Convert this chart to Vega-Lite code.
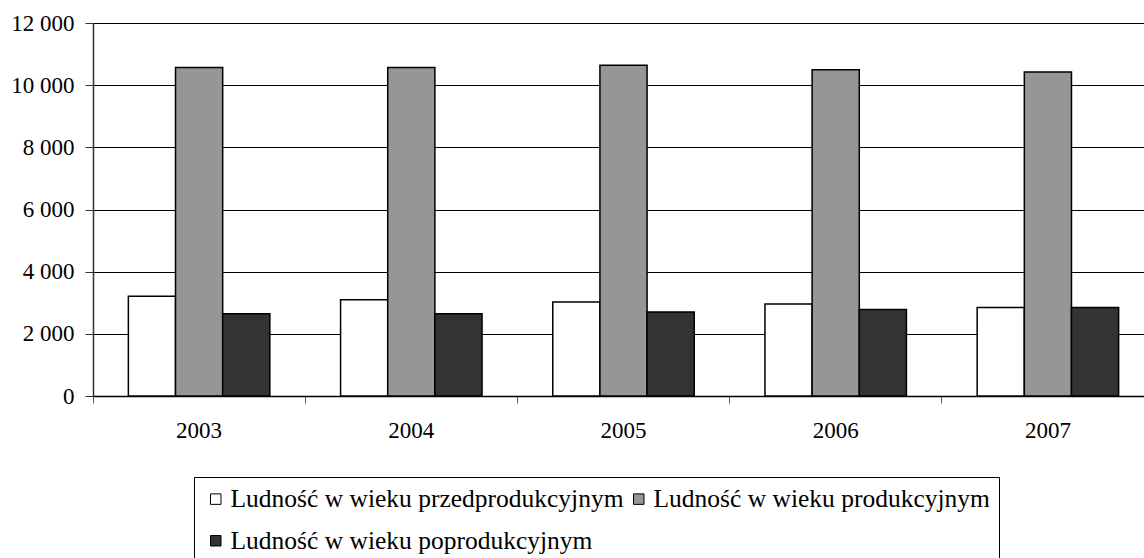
{
  "$schema": "https://vega.github.io/schema/vega-lite/v6.json",
  "width": 1051,
  "height": 373,
  "autosize": {"type": "none"},
  "padding": {"left": 93, "top": 23, "right": 0, "bottom": 162},
  "background": "white",
  "config": {"view": {"stroke": null}, "font": "Liberation Serif"},
  "data": {
    "values": [
      {"year": "2003", "group": "Ludność w wieku przedprodukcyjnym", "value": 3208},
      {"year": "2003", "group": "Ludność w wieku produkcyjnym", "value": 10565},
      {"year": "2003", "group": "Ludność w wieku poprodukcyjnym", "value": 2650},
      {"year": "2004", "group": "Ludność w wieku przedprodukcyjnym", "value": 3100},
      {"year": "2004", "group": "Ludność w wieku produkcyjnym", "value": 10565},
      {"year": "2004", "group": "Ludność w wieku poprodukcyjnym", "value": 2650},
      {"year": "2005", "group": "Ludność w wieku przedprodukcyjnym", "value": 3025},
      {"year": "2005", "group": "Ludność w wieku produkcyjnym", "value": 10640},
      {"year": "2005", "group": "Ludność w wieku poprodukcyjnym", "value": 2702},
      {"year": "2006", "group": "Ludność w wieku przedprodukcyjnym", "value": 2960},
      {"year": "2006", "group": "Ludność w wieku produkcyjnym", "value": 10500},
      {"year": "2006", "group": "Ludność w wieku poprodukcyjnym", "value": 2780},
      {"year": "2007", "group": "Ludność w wieku przedprodukcyjnym", "value": 2844},
      {"year": "2007", "group": "Ludność w wieku produkcyjnym", "value": 10424},
      {"year": "2007", "group": "Ludność w wieku poprodukcyjnym", "value": 2844}
    ]
  },
  "mark": {"type": "bar", "stroke": "black", "strokeWidth": 1.5},
  "encoding": {
    "x": {
      "field": "year",
      "type": "nominal",
      "scale": {"range": [0, 1061], "paddingInner": 0, "paddingOuter": 0},
      "axis": {
        "title": null,
        "labelAngle": 0,
        "labelFont": "Liberation Serif",
        "labelFontSize": 23,
        "labelColor": "black",
        "labelPadding": 16,
        "bandPosition": 0,
        "tickSize": 7,
        "tickColor": "#555555",
        "domainColor": "black",
        "domainWidth": 1.5,
        "grid": false
      }
    },
    "xOffset": {
      "field": "group",
      "type": "nominal",
      "sort": ["Ludność w wieku przedprodukcyjnym", "Ludność w wieku produkcyjnym", "Ludność w wieku poprodukcyjnym"],
      "scale": {"paddingOuter": 0.75, "paddingInner": 0}
    },
    "y": {
      "field": "value",
      "type": "quantitative",
      "scale": {"domain": [0, 12000]},
      "axis": {
        "title": null,
        "values": [0, 2000, 4000, 6000, 8000, 10000, 12000],
        "labelExpr": "replace(format(datum.value, ','), ',', ' ')",
        "labelFont": "Liberation Serif",
        "labelFontSize": 23,
        "labelColor": "black",
        "labelPadding": 11,
        "tickSize": 8,
        "tickColor": "#333333",
        "domainColor": "#333333",
        "domainWidth": 1.5,
        "gridColor": "black",
        "gridOpacity": 1,
        "gridWidth": 1
      }
    },
    "fill": {
      "field": "group",
      "type": "nominal",
      "scale": {
        "domain": ["Ludność w wieku przedprodukcyjnym", "Ludność w wieku produkcyjnym", "Ludność w wieku poprodukcyjnym"],
        "range": ["white", "#969696", "#333333"]
      },
      "legend": {
        "title": null,
        "orient": "none",
        "legendX": 101,
        "legendY": 454,
        "direction": "horizontal",
        "columns": 2,
        "symbolType": "square",
        "symbolSize": 110,
        "symbolStrokeColor": "black",
        "symbolStrokeWidth": 1,
        "symbolOpacity": 1,
        "labelFontSize": 25.5,
        "labelFont": "Liberation Serif",
        "labelColor": "black",
        "labelLimit": 0,
        "labelOffset": 2,
        "columnPadding": 2,
        "rowPadding": 15,
        "padding": 9,
        "strokeColor": "black",
        "fillColor": "white"
      }
    }
  }
}
